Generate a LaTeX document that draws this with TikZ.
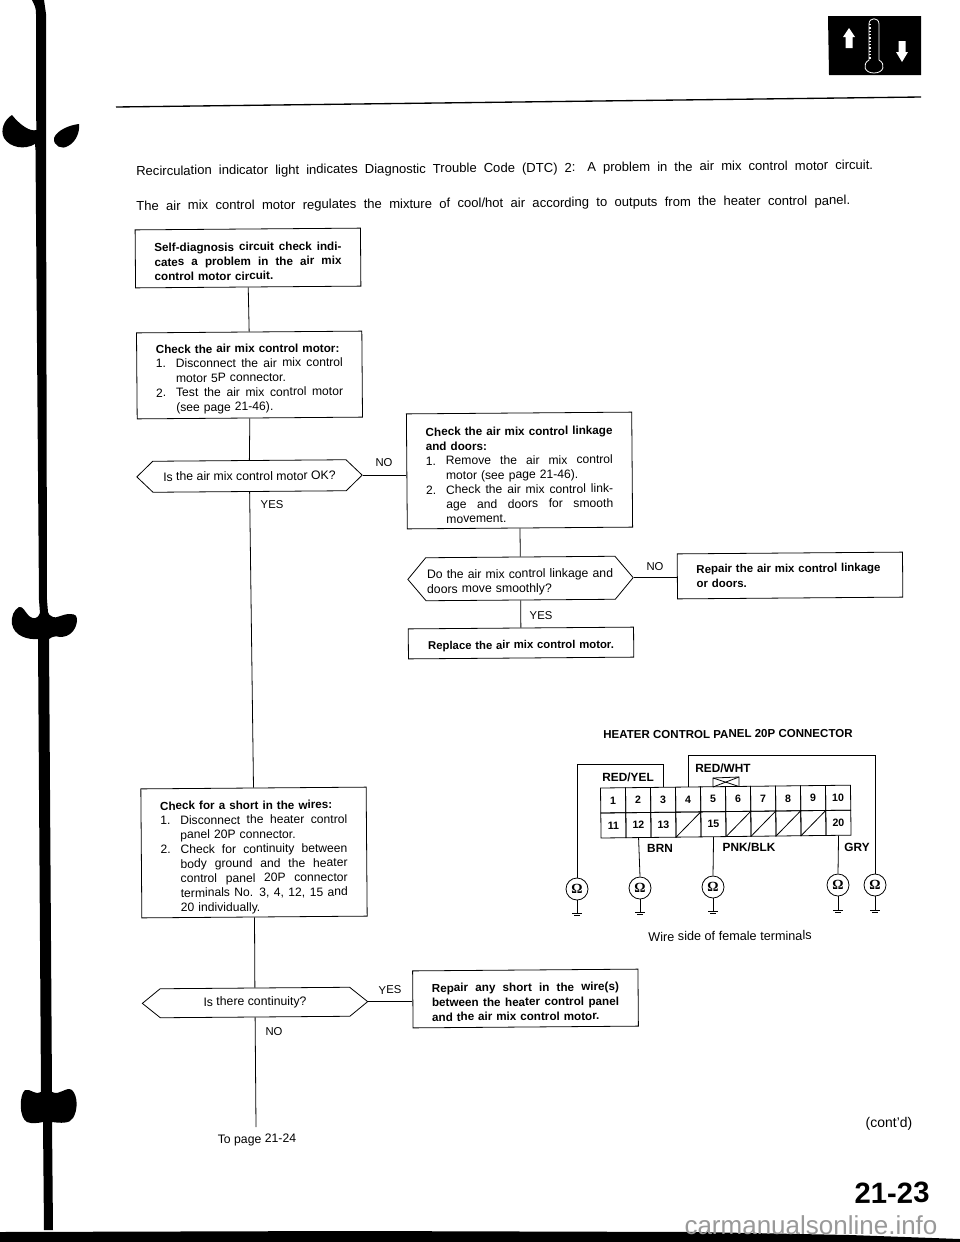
\documentclass[tikz,border=0pt]{standalone}
\usepackage{fontspec}
\setmainfont{Liberation Sans}
\newfontfamily\omegafont{Liberation Serif}
\usetikzlibrary{shapes.symbols}
\newcommand{\WideBox}[2]{\makebox[#1][s]{\spaceskip=.28em plus 1fil\relax #2}}
\newcommand{\FullJ}[1]{\WideBox{140.25pt}{#1}}
\newcommand{\NumJ}[2]{\makebox[15pt][l]{#1}\WideBox{125.25pt}{#2}}
\newcommand{\IndJ}[1]{\hspace*{15pt}\WideBox{125.25pt}{#1}}
\newcommand{\IndF}[1]{\hspace*{15pt}#1}
\newcommand{\BoldHead}[1]{{\bfseries\fontsize{8.75pt}{10.9pt}\selectfont #1}}
\newcommand{\TopPad}[1]{\rule{0pt}{#1}}
\tikzset{
  x=0.75pt,y=-0.75pt,
  ink/.style={line width=0.6pt,black},
  flowbox/.style={draw,ink,rectangle,rotate=0.45,inner sep=0pt,text width=140.25pt,align=left,minimum width=169pt,
     font=\fontsize{9.1pt}{10.9pt}\selectfont},
  boldbox/.style={flowbox,font=\bfseries\fontsize{8.75pt}{10.9pt}\selectfont},
  hexa/.style={draw,ink,shape=signal,signal to=west and east,rotate=0.45,inner sep=0pt,
     font=\fontsize{9.2pt}{10.9pt}\selectfont,minimum width=169pt},
  lbl/.style={rotate=0.45,inner sep=0pt,font=\fontsize{8.5pt}{10pt}\selectfont},
  wirelbl/.style={rotate=0.45,inner sep=0pt,font=\bfseries\fontsize{8.9pt}{10pt}\selectfont},
  cell/.style={draw,ink,rectangle,minimum width=18.75pt,minimum height=18.75pt,inner sep=0pt,
     font=\bfseries\fontsize{8pt}{9pt}\selectfont},
  ohm/.style={draw,ink,circle,minimum size=16.5pt,inner sep=0pt,font=\omegafont\bfseries\fontsize{10.5pt}{11pt}\selectfont},
  wire/.style={ink}
}
\begin{document}
\begin{tikzpicture}
\useasboundingbox (0,0) rectangle (960,1242);
\fill[white] (0,0) rectangle (960,1242);

% binding marks
\fill[black] (32,0) .. controls (35,6) and (36,8) .. (36,14) -- (36,112) -- (36.5,130)
  .. controls (30,132) and (20,125) .. (12,115) .. controls (4,120) and (0,130) .. (4,138)
  .. controls (10,148) and (25,150) .. (35,144) -- (35.5,150) -- (39,600) -- (40,613)
  .. controls (37,620) and (33,619) .. (29,616) .. controls (25,612) and (23,606) .. (19,607)
  .. controls (14,610) and (11,616) .. (12,624) .. controls (14,636) and (28,640) .. (38,639)
  -- (41,1092)
  .. controls (36,1096) and (30,1088) .. (25,1090) .. controls (19,1095) and (19,1118) .. (27,1122)
  .. controls (32,1124) and (38,1123) .. (43,1122) -- (44,1230) -- (53,1230) -- (52,1122)
  .. controls (60,1123) and (70,1124) .. (73,1118) .. controls (78,1110) and (78,1096) .. (72,1090)
  .. controls (66,1086) and (60,1096) .. (52,1092) -- (49,639)
  .. controls (53,636) and (56,636) .. (60,637) .. controls (70,637) and (76,630) .. (77,621)
  .. controls (77,616) and (76,614) .. (70,614) .. controls (62,614) and (56,619) .. (53,617)
  .. controls (50,616) and (48,614) .. (48,612) -- (47,600) -- (46,150) -- (46,14) -- (44,0) -- cycle;
\fill[black] (79,124) .. controls (70,125) and (57,130) .. (54,138) .. controls (53,146) and (62,150) .. (68,146)
  .. controls (76,142) and (80,132) .. (79,124) -- cycle;
\fill[black] (0,1232) -- (350,1231) -- (700,1232) -- (850,1235) -- (960,1239) -- (960,1242) -- (0,1242) -- cycle;

% header icon
\fill[black] (828,16) -- (921,16) -- (921,75) -- (829,75) -- cycle;
\draw[white,line width=0.6pt] (869,60) -- (869,24) .. controls (869,17) and (879,17) .. (879,24) -- (879,60)
   .. controls (886,64) and (884,73) .. (874,73) .. controls (864,73) and (862,64) .. (869,60);
\draw[white,line width=1.1pt,dash pattern=on 1pt off 1.5pt] (870,24) -- (870,60);
\fill[white] (849,28) -- (855,37) -- (852.5,37) -- (852.5,48) -- (845.5,48) -- (845.5,37) -- (843,37) -- cycle;
\fill[white] (902,62) -- (896,52) -- (898.5,52) -- (898.5,41) -- (905.5,41) -- (905.5,52) -- (908,52) -- cycle;
\draw[black,line width=1pt] (116,107) -- (921,97);

% heading text
\node[lbl,anchor=west,font=\fontsize{9.8pt}{11pt}\selectfont] (line1) at (136,172)
  {\WideBox{552.75pt}{Recirculation indicator light indicates Diagnostic Trouble Code (DTC) 2: A problem in the air mix control motor circuit.}};
\node[lbl,anchor=west,font=\fontsize{9.8pt}{11pt}\selectfont] (line2) at (136,207)
  {\WideBox{535.5pt}{The air mix control motor regulates the mixture of cool/hot air according to outputs from the heater control panel.}};

% flowchart nodes
\node[boldbox,minimum height=43.5pt] (b1) at (248,258) {\TopPad{11.25pt}%
  \FullJ{Self-diagnosis circuit check indi-}\\ \FullJ{cates a problem in the air mix}\\ control motor circuit.};
\node[flowbox,minimum height=64.5pt] (b2) at (249.5,375) {\TopPad{12pt}%
  \BoldHead{Check the air mix control motor:}\\
  \NumJ{1.}{Disconnect the air mix control}\\ \IndF{motor 5P connector.}\\
  \NumJ{2.}{Test the air mix control motor}\\ \IndF{(see page 21-46).}};
\node[hexa,minimum height=23.25pt,signal pointer angle=88] (h1) at (249.5,476) {Is the air mix control motor OK?};
\node[flowbox,minimum height=86.25pt] (b3) at (519.5,470.5) {\TopPad{12.75pt}%
  \BoldHead{Check the air mix control linkage}\\ \BoldHead{and doors:}\\
  \NumJ{1.}{Remove the air mix control}\\ \IndF{motor (see page 21-46).}\\
  \NumJ{2.}{Check the air mix control link-}\\ \IndJ{age and doors for smooth}\\ \IndF{movement.}};
\node[hexa,minimum height=32.25pt,signal pointer angle=100,text width=140.25pt,align=left] (h2) at (520.5,578.5)
  {\TopPad{12pt}Do the air mix control linkage and\\ doors move smoothly?};
\node[boldbox,minimum height=33.75pt,font=\bfseries\fontsize{8.6pt}{10.9pt}\selectfont] (b5) at (790,575.5)
  {\mbox{Repair the air mix control linkage}\\ or doors.};
\node[boldbox,minimum height=22.5pt,align=center,font=\bfseries\fontsize{8.5pt}{10.9pt}\selectfont] (b6) at (521,643)
  {\TopPad{10.5pt}Replace the air mix control motor.};
\node[flowbox,minimum height=96.75pt] (b4) at (254,852.5) {\TopPad{13.5pt}%
  \BoldHead{Check for a short in the wires:}\\
  \NumJ{1.}{Disconnect the heater control}\\ \IndF{panel 20P connector.}\\
  \NumJ{2.}{Check for continuity between}\\ \IndJ{body ground and the heater}\\
  \IndJ{control panel 20P connector}\\ \IndJ{terminals No. 3, 4, 12, 15 and}\\ \IndF{20 individually.}};
\node[hexa,minimum height=21.75pt,signal pointer angle=78] (h3) at (255,1002.5) {Is there continuity?};
\node[boldbox,minimum height=42.75pt] (b7) at (525.5,998.5)
  {\TopPad{11.25pt}\FullJ{Repair any short in the wire(s)}\\ \FullJ{between the heater control panel}\\ and the air mix control motor.};
\coordinate (toend) at (256,1127);
\node[lbl,font=\fontsize{9.2pt}{10pt}\selectfont] (topage) at (257,1140) {To page 21-24};

% flowchart connectors
\draw[wire] (b1.south) -- (b2.north);
\draw[wire] (b2.south) -- (h1.north);
\draw[wire] (h1.south) -- (b4.north);
\draw[wire] (h1.east) -- (h1.east -| b3.west);
\draw[wire] (b3.south) -- (h2.north);
\draw[wire] (h2.east) -- (h2.east -| b5.west);
\draw[wire] (h2.south) -- (b6.north);
\draw[wire] (b4.south) -- (h3.north);
\draw[wire] (h3.east) -- (h3.east -| b7.west);
\draw[wire] (h3.south) -- (toend);

% branch labels
\node[lbl] (no1) at (384,463) {NO};
\node[lbl] (yes1) at (272,505) {YES};
\node[lbl] (no2) at (655,567) {NO};
\node[lbl] (yes2) at (541,616) {YES};
\node[lbl] (yes3) at (390,990) {YES};
\node[lbl] (no3) at (274,1032) {NO};

% connector diagram
\node[wirelbl,font=\bfseries\fontsize{8.65pt}{10pt}\selectfont] (title) at (728,734) {HEATER CONTROL PANEL 20P CONNECTOR};
\begin{scope}[shift={(600.5,788)},rotate=0.65,transform shape]
  \foreach \n/\c in {1/0,2/1,3/2,4/3,5/4,6/5,7/6,8/7,9/8,10/9}
    \node[cell] (c\n) at ({\c*25+12.5},12.5) {\n};
  \foreach \n/\c/\t in {11/0/11,12/1/12,13/2/13,14/3/{},15/4/15,16/5/{},17/6/{},18/7/{},19/8/{},20/9/20}
    \node[cell] (c\n) at ({\c*25+12.5},37.5) {\t};
\end{scope}
\foreach \n in {14,16,17,18,19}
  \draw[wire] (c\n.south west) -- (c\n.north east);
\node[wirelbl] (ry) at (628,777) {RED/YEL};
\node[wirelbl] (rw) at (723,768) {RED/WHT};
\node[wirelbl] (brn) at (660,848) {BRN};
\node[wirelbl] (pnk) at (749,847) {PNK/BLK};
\node[wirelbl] (gry) at (857,847) {GRY};
\node[lbl,font=\fontsize{9.5pt}{10pt}\selectfont] (wside) at (730,936) {Wire side of female terminals};
\node[ohm] (o1) at (577,889) {Ω};
\node[ohm] (o2) at (640,888) {Ω};
\node[ohm] (o3) at (713,887) {Ω};
\node[ohm] (o4) at (838,885) {Ω};
\node[ohm] (o5) at (875,885) {Ω};
\draw[wire] (c3.north) |- (577,764) -- (o1.north);
\draw[wire] (c4.north) |- (875,755) -- (o5.north);
\draw[wire] (c12.south) -- (o2.north);
\draw[wire] (c15.south) -- (o3.north);
\draw[wire] (c20.south) -- (o4.north);
\foreach \i/\gx/\gy in {1/577/913,2/640/912,3/713/911,4/838/910,5/875/910}{
  \coordinate (g\i) at (\gx,\gy);
  \draw[wire] (o\i.south) -- (g\i);
  \draw[wire] (\gx-5,\gy) -- (\gx+5,\gy);
  \draw[wire] (\gx-3,\gy+2.5) -- (\gx+3,\gy+2.5);
}
\draw[wire] (713,787) -- (713,778) -- (739,777) -- (739,786.5);
\draw[wire] (713,778) -- (739,786.5);
\draw[wire] (713,787) -- (739,777);

% page furniture
\node[lbl,font=\fontsize{10.5pt}{11pt}\selectfont] (contd) at (889,1124) {(cont'd)};
\node[lbl,font=\bfseries\fontsize{22pt}{24pt}\selectfont] (pageno) at (892,1193) {21-23};
\node[inner sep=0pt,text=black!40,font=\fontsize{19.5pt}{22pt}\selectfont] (wm) at (811,1225) {carmanualsonline.info};
\end{tikzpicture}
\end{document}
